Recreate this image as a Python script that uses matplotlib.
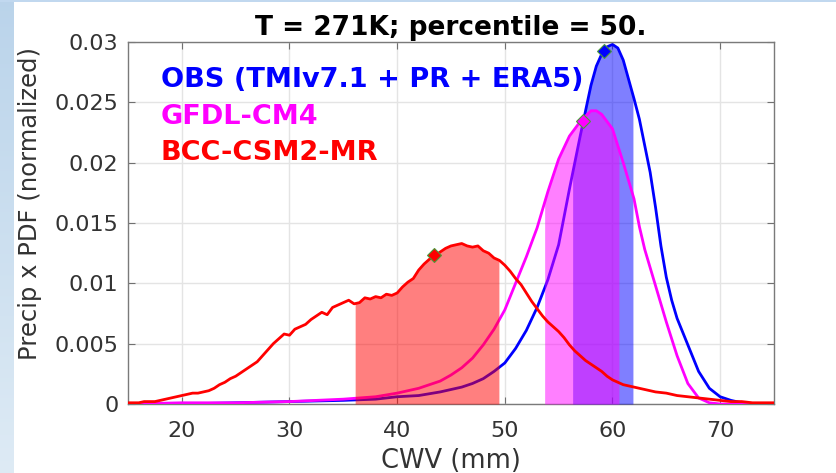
import matplotlib.pyplot as plt
import numpy as np

# CWV (mm) and Precip x PDF (normalized)
obs_x = [15, 20, 25, 30, 35, 38, 40, 42, 44, 46, 47, 48, 49, 50, 51, 52, 53, 54, 55,
         55.5, 56, 56.5, 57, 57.5, 58, 58.5, 59, 59.5, 60, 60.5, 61, 61.5, 62, 62.5,
         63, 63.5, 64, 64.5, 65, 65.5, 66, 67, 68, 69, 70, 71, 72, 73, 75]
obs_y = [0.0, 0.0, 0.0001, 0.0002, 0.0003, 0.0004, 0.0006, 0.0007, 0.0010, 0.0014, 0.0017,
         0.0021, 0.0027, 0.0034, 0.0046, 0.0061, 0.0080, 0.0103, 0.0132,
         0.0155, 0.0178, 0.0200, 0.0222, 0.0243, 0.0264, 0.0280, 0.0290, 0.0296, 0.0298,
         0.0295, 0.0285, 0.0269, 0.0253, 0.0236, 0.0214, 0.0192, 0.0163, 0.0131, 0.0105,
         0.0086, 0.0071, 0.0049, 0.0027, 0.0013, 0.0006, 0.0003, 0.0001, 0.0, 0.0]

gfdl_x = [15, 20, 25, 30, 35, 38, 40, 42, 44, 45, 46, 47, 48, 49, 50, 51, 52, 53, 54,
          55, 56, 57, 58, 58.5, 59, 60, 61, 62, 62.5, 63, 64, 65, 66, 67, 68, 69, 70, 75]
gfdl_y = [0.0, 0.0001, 0.0001, 0.0002, 0.0004, 0.0006, 0.0009, 0.0013, 0.0019, 0.0024,
          0.0030, 0.0038, 0.0049, 0.0062, 0.0078, 0.0100, 0.0122, 0.0146, 0.0176,
          0.0203, 0.0222, 0.0234, 0.0243, 0.0243, 0.0240, 0.0228, 0.0200, 0.0170, 0.0147,
          0.0128, 0.0098, 0.0068, 0.0040, 0.0017, 0.0005, 0.0001, 0.0, 0.0]

bcc_x = [15, 15.5, 16, 16.5, 17, 17.5, 18, 18.5, 19, 19.5, 20, 20.5, 21, 21.5, 22, 22.5,
         23, 23.5, 24, 24.5, 25, 25.5, 26, 26.5, 27, 27.5, 28, 28.5, 29, 29.5, 30, 30.5,
         31, 31.5, 32, 32.5, 33, 33.5, 34, 34.5, 35, 35.5, 36, 36.5, 37, 37.5, 38, 38.5,
         39, 39.5, 40, 40.5, 41, 41.5, 42, 42.5, 43, 43.5, 44, 44.5, 45, 45.5, 46, 46.5,
         47, 47.5, 48, 48.5, 49, 49.5, 50, 50.5, 51, 51.5, 52, 52.5, 53, 53.5, 54, 54.5,
         55, 55.5, 56, 56.5, 57, 57.5, 58, 58.5, 59, 59.5, 60, 60.5, 61, 61.5, 62, 62.5,
         63, 64, 65, 66, 67, 68, 69, 70, 71, 72, 73, 74, 75]
bcc_y = [0.0001, 0.0001, 0.0001, 0.0002, 0.0002, 0.0002, 0.0003, 0.0004, 0.0005, 0.0006,
         0.0007, 0.0008, 0.0009, 0.0009, 0.0010, 0.0011, 0.0013, 0.0016, 0.0018, 0.0021,
         0.0023, 0.0026, 0.0029, 0.0032, 0.0035, 0.0040, 0.0045, 0.0050, 0.0054, 0.0058,
         0.0057, 0.0062, 0.0064, 0.0066, 0.0070, 0.0073, 0.0076, 0.0074, 0.0080, 0.0082,
         0.0084, 0.0086, 0.0083, 0.0084, 0.0088, 0.0087, 0.0089, 0.0088, 0.0091, 0.0090,
         0.0092, 0.0097, 0.0101, 0.0104, 0.0111, 0.0116, 0.0120, 0.0123, 0.0126, 0.0129,
         0.0131, 0.0132, 0.0133, 0.0131, 0.0130, 0.0131, 0.0127, 0.0125, 0.0121, 0.0119,
         0.0115, 0.0110, 0.0104, 0.0099, 0.0092, 0.0085, 0.0079, 0.0073, 0.0068, 0.0064,
         0.0060, 0.0055, 0.0049, 0.0044, 0.0040, 0.0036, 0.0033, 0.0030, 0.0027, 0.0023,
         0.0020, 0.0018, 0.0016, 0.0015, 0.0014, 0.0013, 0.0012, 0.0010, 0.0009, 0.0007,
         0.0006, 0.0005, 0.0004, 0.0003, 0.0002, 0.0002, 0.0001, 0.0001, 0.0001]

# shaded CWV band around each percentile, and the marked point
obs_band = (56.3, 61.9)
gfdl_band = (53.7, 60.6)
bcc_band = (36.1, 49.45)
obs_mark = (59.2, 0.02925)
gfdl_mark = (57.25, 0.02345)
bcc_mark = (43.4, 0.01235)

names = ['OBS (TMIv7.1 + PR + ERA5)', 'GFDL-CM4', 'BCC-CSM2-MR']
colors = ['#0000ff', '#ff00ff', '#ff0000']

fig = plt.figure(figsize=(8.36, 4.73), dpi=100)

# light blue frame along the left and top edge
bg = np.ones((473, 836, 3))
top_c = np.array([0.73, 0.83, 0.92])
bot_c = np.array([0.87, 0.92, 0.96])
for i in range(473):
    bg[i, :14] = top_c + (bot_c - top_c) * i / 472
bg[:3, :] = [0.76, 0.85, 0.94]
bga = fig.add_axes([0, 0, 1, 1], zorder=-5)
bga.imshow(bg, aspect='auto', interpolation='nearest')
bga.axis('off')

ax = fig.add_axes([0.1531, 0.1459, 0.7727, 0.7653])
series = [(obs_x, obs_y, obs_band, obs_mark),
          (gfdl_x, gfdl_y, gfdl_band, gfdl_mark),
          (bcc_x, bcc_y, bcc_band, bcc_mark)]
z = 2
for (sx, sy, band, mark), c in zip(series, colors):
    ax.plot(sx, sy, color=c, lw=2.0, zorder=z)
    xf = np.linspace(band[0], band[1], 200)
    ax.fill_between(xf, 0, np.interp(xf, sx, sy), color=c, alpha=0.5, lw=0, zorder=z + 1)
    z += 2
for (sx, sy, band, mark), c in zip(series, colors):
    ax.plot(mark[0], mark[1], 'D', color=c, ms=7, mec='#4a9a3a', mew=0.8, zorder=10)

ax.set_xlim(15, 75)
ax.set_ylim(0, 0.03)
ax.set_xticks([20, 30, 40, 50, 60, 70])
ax.set_yticks([0, 0.005, 0.01, 0.015, 0.02, 0.025, 0.03])
ax.set_yticklabels(['0', '0.005', '0.01', '0.015', '0.02', '0.025', '0.03'])
ax.grid(True, color='#e4e4e4', lw=1)
ax.set_axisbelow(True)
ax.tick_params(direction='in', length=5, width=0.8, color='#707070', labelsize=16,
               labelcolor='#333333', top=True, right=True)
ax.tick_params(axis='y', pad=7)
ax.tick_params(axis='x', pad=12)
for s in ax.spines.values():
    s.set_color('#7a7a7a')
    s.set_linewidth(1.0)

ax.set_xlabel('CWV (mm)', fontsize=18.5, color='#333333', labelpad=5)
ax.set_ylabel('Precip x PDF (normalized)', fontsize=17.5, color='#333333')
ax.yaxis.set_label_coords(-0.133, 0.555)
ax.set_title('T = 271K; percentile = 50.', fontsize=19, fontweight='bold', pad=5)

for name, c, yy in zip(names, colors, [0.02627, 0.0232, 0.02022]):
    ax.text(18.06, yy, name, color=c, fontsize=19.5, fontweight='bold', va='baseline')

plt.savefig('out.png', dpi=100)
